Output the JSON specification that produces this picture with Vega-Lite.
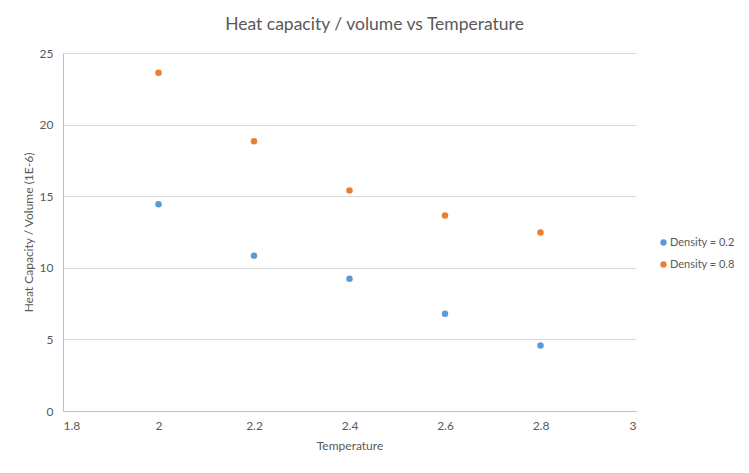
{
  "$schema": "https://vega.github.io/schema/vega-lite/v6.json",
  "width": 573,
  "height": 358,
  "autosize": {"type": "none"},
  "padding": {"left": 63, "top": 53, "right": 113, "bottom": 62},
  "background": "white",
  "title": {
    "text": "Heat capacity / volume vs Temperature",
    "font": "Lato",
    "fontSize": 17.5,
    "fontWeight": "normal",
    "color": "#595959",
    "anchor": "middle",
    "dx": 25,
    "offset": 14
  },
  "config": {
    "view": {"stroke": null},
    "font": "Lato"
  },
  "data": {
    "values": [
      {"Temperature": 2.0, "value": 14.43, "series": "Density = 0.2"},
      {"Temperature": 2.2, "value": 10.85, "series": "Density = 0.2"},
      {"Temperature": 2.4, "value": 9.24, "series": "Density = 0.2"},
      {"Temperature": 2.6, "value": 6.79, "series": "Density = 0.2"},
      {"Temperature": 2.8, "value": 4.57, "series": "Density = 0.2"},
      {"Temperature": 2.0, "value": 23.62, "series": "Density = 0.8"},
      {"Temperature": 2.2, "value": 18.84, "series": "Density = 0.8"},
      {"Temperature": 2.4, "value": 15.4, "series": "Density = 0.8"},
      {"Temperature": 2.6, "value": 13.65, "series": "Density = 0.8"},
      {"Temperature": 2.8, "value": 12.46, "series": "Density = 0.8"}
    ]
  },
  "mark": {"type": "point", "filled": true, "size": 42, "opacity": 1},
  "encoding": {
    "x": {
      "field": "Temperature",
      "type": "quantitative",
      "scale": {"domain": [1.8, 3], "nice": false, "zero": false},
      "axis": {
        "values": [1.8, 2, 2.2, 2.4, 2.6, 2.8, 3],
        "labelExpr": "datum.value == 2 ? '2' : datum.value == 3 ? '3' : format(datum.value, '.1f')",
        "grid": false,
        "ticks": false,
        "domainColor": "#bfbfbf",
        "labelColor": "#595959",
        "labelFontSize": 12,
        "labelPadding": 9,
        "title": "Temperature",
        "titleColor": "#595959",
        "titleFontSize": 12,
        "titleFontWeight": "normal",
        "titlePadding": 9
      }
    },
    "y": {
      "field": "value",
      "type": "quantitative",
      "scale": {"domain": [0, 25], "nice": false},
      "axis": {
        "values": [0, 5, 10, 15, 20, 25],
        "grid": true,
        "gridColor": "#d9d9d9",
        "ticks": false,
        "domainColor": "#bfbfbf",
        "labelColor": "#595959",
        "labelFontSize": 12,
        "labelPadding": 10,
        "title": "Heat Capacity / Volume (1E-6)",
        "titleColor": "#595959",
        "titleFontSize": 12,
        "titleFontWeight": "normal",
        "titlePadding": 4
      }
    },
    "color": {
      "field": "series",
      "type": "nominal",
      "scale": {"domain": ["Density = 0.2", "Density = 0.8"], "range": ["#5B9BD5", "#ED7D31"]},
      "legend": {
        "title": null,
        "orient": "none",
        "legendX": 595,
        "legendY": 184,
        "symbolType": "circle",
        "symbolSize": 40,
        "labelFontSize": 11,
        "labelColor": "#595959",
        "labelOffset": 1,
        "rowPadding": 10
      }
    }
  }
}
